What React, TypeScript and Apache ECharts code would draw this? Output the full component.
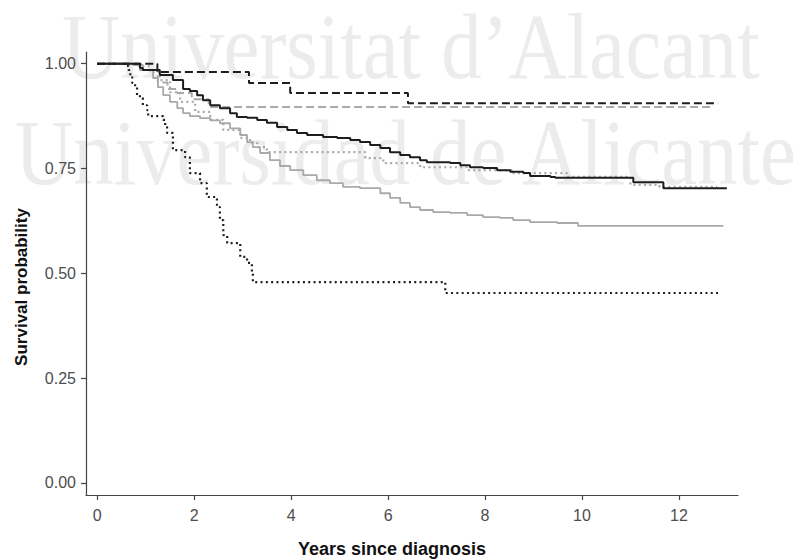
import React, { useEffect, useRef } from "react";
import * as echarts from "echarts";

// Tick values
const xTicks = [0, 2, 4, 6, 8, 10, 12];
const yTicks = [0, 0.25, 0.5, 0.75, 1];

// Kaplan–Meier curves: [years, survival probability]
const blackSolid: [number, number][] = [
  [0, 1], [0.88, 0.99], [0.94, 0.985], [1.29, 0.973], [1.56, 0.961], [1.77, 0.94],
  [1.91, 0.935], [2.06, 0.925], [2.18, 0.913], [2.33, 0.901], [2.53, 0.894], [2.74, 0.882],
  [2.88, 0.873], [3.09, 0.871], [3.3, 0.866], [3.5, 0.859], [3.71, 0.849], [3.92, 0.842],
  [4.12, 0.835], [4.33, 0.83], [4.66, 0.825], [4.95, 0.823], [5.22, 0.818], [5.42, 0.813],
  [5.63, 0.806], [5.84, 0.799], [6.04, 0.789], [6.25, 0.782], [6.45, 0.777], [6.66, 0.77],
  [6.8, 0.765], [7.28, 0.763], [7.49, 0.758], [7.69, 0.753], [7.96, 0.751], [8.25, 0.746],
  [8.52, 0.742], [8.79, 0.739], [8.93, 0.732], [9.35, 0.73], [9.45, 0.728], [11.06, 0.717],
  [11.68, 0.703], [12.99, 0.703],
];
const graySolid: [number, number][] = [
  [0, 1], [0.74, 0.997], [0.94, 0.985], [1.15, 0.966], [1.25, 0.944], [1.36, 0.925],
  [1.5, 0.909], [1.65, 0.894], [1.77, 0.882], [1.91, 0.875], [2.12, 0.87], [2.33, 0.865],
  [2.53, 0.858], [2.74, 0.846], [2.95, 0.83], [3.09, 0.813], [3.21, 0.801], [3.36, 0.787],
  [3.56, 0.77], [3.77, 0.756], [3.98, 0.746], [4.25, 0.734], [4.53, 0.722], [4.8, 0.715],
  [5.07, 0.706], [5.42, 0.703], [5.84, 0.691], [6.04, 0.68], [6.25, 0.668], [6.45, 0.658],
  [6.66, 0.651], [6.93, 0.646], [7.28, 0.644], [7.63, 0.639], [7.96, 0.634], [8.31, 0.632],
  [8.58, 0.627], [8.93, 0.622], [9.49, 0.62], [9.92, 0.613], [12.92, 0.613],
];
const blackDashed: [number, number][] = [
  [0, 1], [1.24, 0.98], [3.13, 0.954], [3.98, 0.93], [6.41, 0.906], [12.81, 0.906],
];
const grayDashed: [number, number][] = [
  [0, 1], [0.85, 0.985], [1.25, 0.955], [1.45, 0.94], [1.65, 0.93], [1.95, 0.915],
  [2.3, 0.897], [12.71, 0.897],
];
const blackDotted: [number, number][] = [
  [0, 1], [0.61, 0.995], [0.64, 0.985], [0.68, 0.968], [0.72, 0.954], [0.78, 0.942],
  [0.82, 0.925], [0.88, 0.918], [0.94, 0.901], [1.03, 0.889], [1.05, 0.875], [1.36, 0.866],
  [1.4, 0.849], [1.44, 0.835], [1.56, 0.794], [1.81, 0.777], [1.91, 0.739], [2.12, 0.715],
  [2.26, 0.682], [2.47, 0.658], [2.53, 0.627], [2.6, 0.591], [2.68, 0.572], [2.95, 0.539],
  [3.09, 0.525], [3.19, 0.503], [3.21, 0.479], [7.18, 0.453], [12.85, 0.453],
];
const grayDotted: [number, number][] = [
  [0, 1], [0.88, 0.994], [1.09, 0.98], [1.29, 0.961], [1.5, 0.932], [1.71, 0.909],
  [2.02, 0.885], [2.33, 0.866], [2.6, 0.842], [2.95, 0.823], [3.15, 0.811], [3.3, 0.801],
  [3.5, 0.789], [5.53, 0.775], [5.9, 0.763], [6.66, 0.753], [7.63, 0.746], [8.58, 0.739],
  [9.69, 0.73], [11.0, 0.711], [11.6, 0.706], [12.79, 0.706],
];

const BLACK = "#1e1e1e";
const GRAY = "#a9a9a9";
const DASH = [8, 4];
const DOT = [2, 3.3];

function km(name: string, data: [number, number][], color: string, width: number, type: any, z: number) {
  return {
    name,
    type: "line",
    step: "end",
    data,
    symbol: "none",
    showSymbol: false,
    z,
    lineStyle: { color, width, type },
    silent: true,
  };
}

export default function App() {
  const ref = useRef<HTMLDivElement>(null);
  useEffect(() => {
    if (!ref.current) return;
    const chart = echarts.init(ref.current, undefined, { renderer: "svg" });
    const sans = "'Liberation Sans', Arial, Helvetica, sans-serif";
    const serif = "84px 'Liberation Serif', 'Times New Roman', serif";
    chart.setOption({
      animation: false,
      backgroundColor: "#ffffff",
      grid: { left: 86, top: 52, width: 652, height: 443, containLabel: false, outerBoundsMode: "none" },
      xAxis: {
        type: "value",
        min: -0.233,
        max: 13.22,
        splitLine: { show: false },
        axisLine: { show: true, onZero: false, lineStyle: { color: "#444", width: 1.2 } },
        axisTick: { show: true, length: 5, customValues: xTicks, lineStyle: { color: "#444", width: 1.2 } },
        axisLabel: {
          customValues: xTicks,
          margin: 12,
          color: "#4d4d4d",
          fontSize: 16,
          fontFamily: sans,
          formatter: (v: number) => String(v),
        },
      },
      yAxis: {
        type: "value",
        min: -0.029,
        max: 1.028,
        splitLine: { show: false },
        axisLine: { show: true, onZero: false, lineStyle: { color: "#444", width: 1.2 } },
        axisTick: { show: true, length: 5, customValues: yTicks, lineStyle: { color: "#444", width: 1.2 } },
        axisLabel: {
          customValues: yTicks,
          margin: 10,
          color: "#4d4d4d",
          fontSize: 16,
          fontFamily: sans,
          formatter: (v: number) => v.toFixed(2),
        },
      },
      graphic: {
        elements: [
          {
            type: "text",
            z: -10,
            x: 62,
            y: 47,
            scaleX: 0.962,
            scaleY: 1.1,
            originY: 0,
            style: {
              text: "Universitat d\u2019Alacant",
              font: serif,
              lineHeight: 60,
              fill: "#ececec",
              align: "left",
              verticalAlign: "middle",
            },
            silent: true,
          },
          {
            type: "text",
            z: -10,
            x: 15,
            y: 153,
            scaleX: 0.962,
            scaleY: 1.1,
            style: {
              text: "Universidad de Alicante",
              font: serif,
              lineHeight: 60,
              fill: "#ececec",
              align: "left",
              verticalAlign: "middle",
            },
            silent: true,
          },
          {
            type: "text",
            x: 392,
            y: 549,
            style: {
              text: "Years since diagnosis",
              font: `bold 18px ${sans}`,
              fill: "#111",
              align: "center",
              verticalAlign: "middle",
            },
          },
          {
            type: "text",
            x: 21,
            y: 287,
            rotation: Math.PI / 2,
            style: {
              text: "Survival probability",
              font: `bold 17px ${sans}`,
              fill: "#111",
              align: "center",
              verticalAlign: "middle",
            },
          },
        ],
      },
      series: [
        km("Gray dashed", grayDashed, GRAY, 2, DASH, 2),
        km("Gray dotted", grayDotted, GRAY, 2.2, DOT, 3),
        km("Gray solid", graySolid, GRAY, 1.8, "solid", 4),
        km("Black dashed", blackDashed, BLACK, 2, DASH, 5),
        km("Black dotted", blackDotted, BLACK, 2.2, DOT, 6),
        km("Black solid", blackSolid, BLACK, 2, "solid", 7),
      ],
    });
    return () => chart.dispose();
  }, []);
  return (
    <div
      ref={ref}
      style={{ position: "absolute", left: 0, top: 0, width: 804, height: 559 }}
    />
  );
}
